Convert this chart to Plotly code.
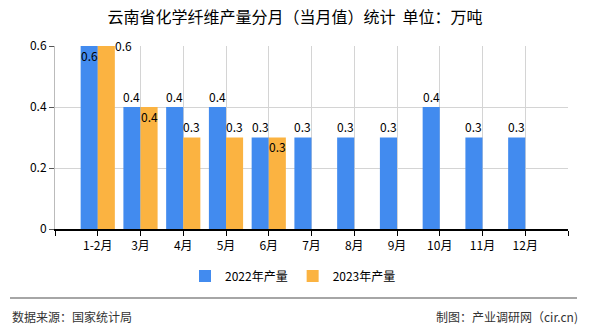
import plotly.graph_objects as go

categories = ["1-2月", "3月", "4月", "5月", "6月", "7月", "8月", "9月", "10月", "11月", "12月"]
prod_2022 = [0.6, 0.4, 0.4, 0.4, 0.3, 0.3, 0.3, 0.3, 0.4, 0.3, 0.3]
prod_2023 = [0.6, 0.4, 0.3, 0.3, 0.3, None, None, None, None, None, None]
# label placement: "in" = just inside top, "out" = above, "right" = beside at top
pos_2022 = ["in", "out", "out", "out", "out", "out", "out", "out", "out", "out", "out"]
pos_2023 = ["right", "in", "out", "out", "in", None, None, None, None, None, None]

BLUE = "#428bef"
ORANGE = "#fbb341"
FONT = "Noto Sans CJK SC"

idx = list(range(len(categories)))
fig = go.Figure()
fig.add_trace(go.Bar(x=idx, y=prod_2022, name="2022年产量", marker_color=BLUE,
                     marker_line_width=0, hoverinfo="y"))
fig.add_trace(go.Bar(x=idx, y=prod_2023, name="2023年产量", marker_color=ORANGE,
                     marker_line_width=0, hoverinfo="y"))

px_per_cat = (568 - 55) / 12.0
half = 0.2 * px_per_cat
for series, posl, sign in ((prod_2022, pos_2022, -1), (prod_2023, pos_2023, 1)):
    for i, (v, p) in enumerate(zip(series, posl)):
        if v is None:
            continue
        xs = sign * half
        ys = 11
        if p == "in":
            ys = -9
        elif p == "right":
            xs = sign * half + 17
            ys = 1
        fig.add_annotation(x=i, y=v, text=f"{v:.1f}", showarrow=False,
                           xshift=xs, yshift=ys, yanchor="middle",
                           font=dict(family=FONT, size=12, color="#000"))

fig.update_layout(
    width=590, height=330,
    margin=dict(l=55, r=22, t=46, b=101, autoexpand=False),
    paper_bgcolor="white", plot_bgcolor="white",
    barmode="group", bargap=0.2, bargroupgap=0,
    font=dict(family=FONT, size=12, color="#000"),
    title=dict(text="云南省化学纤维产量分月（当月值）统计  单位：万吨", x=0.5, xanchor="center",
               y=1 - 17 / 330, yanchor="middle",
               font=dict(family=FONT, size=16, color="#000")),
    legend=dict(orientation="h", x=(293 - 55) / 513, xanchor="center",
                y=-(276 - 229) / 183, yanchor="middle",
                font=dict(family=FONT, size=12, color="#000"), itemwidth=30,
                traceorder="normal"),
    showlegend=True,
)
fig.update_xaxes(
    range=[-1, 11], tickmode="array",
    tickvals=[-1] + idx + [11], ticktext=[""] + categories + [""],
    showgrid=True, gridcolor="#d4d4d4", gridwidth=1,
    showline=True, linecolor="#000", linewidth=1.5,
    ticks="outside", ticklen=5, tickcolor="#000",
    tickfont=dict(family=FONT, size=12, color="#000"), zeroline=False,
)
fig.update_yaxes(
    range=[0, 0.6], tickvals=[0, 0.2, 0.4, 0.6], ticktext=["0", "0.2", "0.4", "0.6"],
    showgrid=True, gridcolor="#d4d4d4", gridwidth=1,
    showline=True, linecolor="#bbbbbb", linewidth=1, mirror=False,
    ticks="outside", ticklen=5, tickcolor="#555",
    tickfont=dict(family=FONT, size=12, color="#000"), zeroline=False,
)

fig.add_shape(type="line", xref="paper", yref="paper", x0=-45 / 513, x1=522 / 513,
              y0=-(298 - 229) / 183, y1=-(298 - 229) / 183,
              line=dict(color="#888", width=1.5))
fig.add_annotation(xref="paper", yref="paper", x=-45 / 513, y=-(316 - 229) / 183,
                   xanchor="left", yanchor="middle", showarrow=False,
                   text="数据来源：国家统计局", font=dict(family=FONT, size=12, color="#333"))
fig.add_annotation(xref="paper", yref="paper", x=525 / 513, y=-(316 - 229) / 183,
                   xanchor="right", yanchor="middle", showarrow=False,
                   text="制图：产业调研网（cir.cn)", font=dict(family=FONT, size=12, color="#333"))

fig.write_html("out.html")
